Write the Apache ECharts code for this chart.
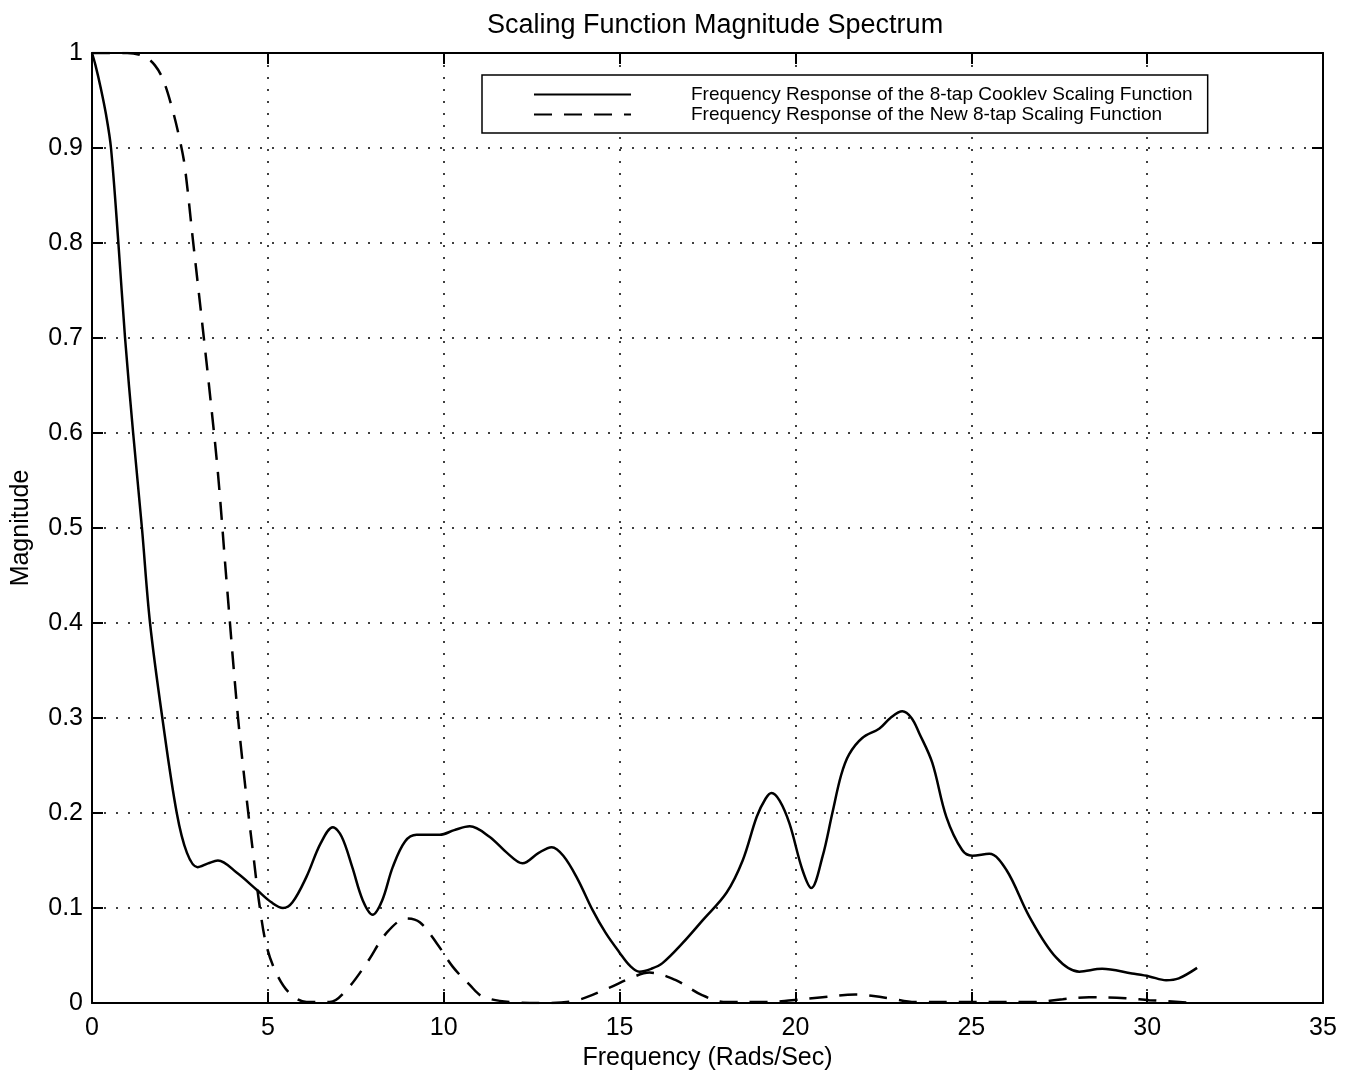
<!DOCTYPE html>
<html lang="en" style="height: 100%">
<head>
  <meta charset="utf-8">
  <title>Scaling Function Magnitude Spectrum</title>
  <script src="https://cdn.jsdelivr.net/npm/echarts@6/dist/echarts.min.js"></script>
</head>
<body style="height: 100%; margin: 0; background: #fff">
  <div id="container" style="width: 1357px; height: 1077px"></div>
  <script type="text/javascript">
    // Cooklev 8-tap scaling function (solid)
    var cooklevFreq = [0, 0.1, 0.25, 0.4, 0.54, 0.75, 0.94, 1.17, 1.42, 1.65, 2.0, 2.41, 2.7, 3.0, 3.3, 3.58, 4.12,
      4.69, 5.1, 5.43, 5.7, 6.1, 6.5, 6.85, 7.1, 7.4, 7.7, 7.98, 8.25, 8.55, 8.9, 9.23, 9.89, 10.3, 10.74,
      11.3, 11.8, 12.24, 12.7, 13.07, 13.4, 13.8, 14.23, 14.6, 15.0, 15.3, 15.57, 15.9, 16.22, 16.79, 17.36,
      18.04, 18.5, 18.9, 19.15, 19.32, 19.55, 19.83, 20.2, 20.45, 20.77, 21.05, 21.3, 21.53, 21.9, 22.39,
      22.7, 23.04, 23.3, 23.52, 23.89, 24.29, 24.74, 25.03, 25.51, 26.0, 26.65, 27.41, 28.07, 28.72, 29.57,
      30.06, 30.54, 30.9, 31.42];
    var cooklevMag = [1.0, 0.987, 0.963, 0.935, 0.9, 0.8, 0.7, 0.6, 0.5, 0.4, 0.3, 0.2, 0.158, 0.143, 0.147, 0.15, 0.137,
      0.119, 0.106, 0.1, 0.106, 0.133, 0.168, 0.185, 0.175, 0.143, 0.108, 0.093, 0.108, 0.143, 0.17, 0.177, 0.177, 0.182, 0.186,
      0.175, 0.158, 0.147, 0.158, 0.164, 0.155, 0.131, 0.098, 0.074, 0.053, 0.039, 0.033, 0.036, 0.042, 0.063, 0.087,
      0.116, 0.15, 0.196, 0.215, 0.221, 0.213, 0.189, 0.14, 0.121, 0.154, 0.2, 0.24, 0.262, 0.279, 0.289,
      0.3, 0.307, 0.3, 0.284, 0.253, 0.196, 0.161, 0.155, 0.157, 0.14, 0.091, 0.048, 0.033, 0.036, 0.031,
      0.028, 0.024, 0.026, 0.037];

    // New 8-tap scaling function (dashed)
    var newFreq = [0, 1.0, 1.5, 1.79, 2.02, 2.27, 2.5, 2.64, 2.87, 3.15, 3.35, 3.58, 3.83, 4.15, 4.4, 4.57, 4.77,
      4.97, 5.26, 5.63, 6.1, 6.76, 7.24, 7.81, 8.38, 8.95, 9.32, 9.8, 10.26, 10.74, 11.1, 11.9, 13.0, 13.8,
      14.7, 15.3, 15.85, 16.6, 17.36, 18.04, 19.2, 19.9, 20.77, 21.7, 22.67, 23.4, 26.8, 27.6, 28.35, 29.4,
      30.06, 31.42];
    var newMag = [1.0, 1.0, 0.996, 0.987, 0.972, 0.943, 0.908, 0.88, 0.803, 0.71, 0.642, 0.558, 0.442, 0.301, 0.214, 0.161, 0.101,
      0.059, 0.03, 0.01, 0.001, 0.001, 0.014, 0.042, 0.074, 0.089, 0.085, 0.063, 0.038, 0.019, 0.007, 0.001, 0.0, 0.003,
      0.016, 0.026, 0.032, 0.024, 0.008, 0.001, 0.001, 0.003, 0.006, 0.009, 0.005, 0.001, 0.001, 0.004, 0.006, 0.005,
      0.003, 0.0];

    var seriesNames = [
      'Frequency Response of the 8-tap Cooklev Scaling Function',
      'Frequency Response of the New 8-tap Scaling Function'
    ];

    function pairs(xs, ys) {
      return xs.map(function (x, i) { return [x, ys[i]]; });
    }

    var dom = document.getElementById('container');
    var myChart = echarts.init(dom, null, { renderer: 'canvas' });
    var font = 'Liberation Sans, Arial, Helvetica, sans-serif';
    var dotted = { color: '#000', width: 1.5, type: [2, 10] };
    var frame = { color: '#000', width: 2 };

    var option = {
      backgroundColor: '#fff',
      animation: false,
      textStyle: { fontFamily: font, color: '#000' },
      title: {
        text: 'Scaling Function Magnitude Spectrum',
        left: 710,
        top: 7,
        textAlign: 'center',
        textStyle: { fontFamily: font, fontSize: 27, fontWeight: 'normal', color: '#000' }
      },
      legend: {
        left: 482,
        top: 75,
        orient: 'vertical',
        padding: [10, 15, 9, 51],
        itemGap: 1,
        itemWidth: 97,
        itemHeight: 16,
        borderColor: '#000',
        borderWidth: 1.5,
        backgroundColor: '#fff',
        itemStyle: { opacity: 0 },
        textStyle: { fontFamily: font, fontSize: 19, lineHeight: 17, color: '#000', padding: [0, 0, 0, 55] },
        data: seriesNames
      },
      grid: { left: 92, right: 34, top: 53, bottom: 74 },
      xAxis: [{
        type: 'value', min: 0, max: 35, interval: 5,
        name: 'Frequency (Rads/Sec)', nameLocation: 'middle', nameGap: 41,
        nameTextStyle: { fontSize: 25, color: '#000' },
        axisLine: { onZero: false, lineStyle: frame },
        axisTick: { inside: true, length: 11, lineStyle: frame },
        axisLabel: { fontSize: 25, color: '#000', margin: 13 },
        splitLine: { show: true, lineStyle: dotted }
      }, {
        type: 'value', min: 0, max: 35, interval: 5, position: 'top',
        axisLine: { show: true, onZero: false, lineStyle: frame },
        axisTick: { show: true, inside: true, length: 11, lineStyle: frame },
        axisLabel: { show: false },
        splitLine: { show: false }
      }],
      yAxis: [{
        type: 'value', min: 0, max: 1, interval: 0.1,
        name: 'Magnitude', nameLocation: 'middle', nameGap: 58,
        nameTextStyle: { fontSize: 25, color: '#000' },
        axisLine: { show: true, onZero: false, lineStyle: frame },
        axisTick: { show: true, inside: true, length: 11, lineStyle: frame },
        axisLabel: { fontSize: 25, color: '#000', margin: 9 },
        splitLine: { show: true, lineStyle: dotted }
      }, {
        type: 'value', min: 0, max: 1, interval: 0.1, position: 'right',
        axisLine: { show: true, onZero: false, lineStyle: frame },
        axisTick: { show: true, inside: true, length: 11, lineStyle: frame },
        axisLabel: { show: false },
        splitLine: { show: false }
      }],
      series: [{
        name: seriesNames[0],
        type: 'line',
        data: pairs(cooklevFreq, cooklevMag),
        smooth: 0.35,
        symbol: 'none',
        lineStyle: { color: '#000', width: 2.5, type: 'solid' },
        itemStyle: { color: '#000' }
      }, {
        name: seriesNames[1],
        type: 'line',
        data: pairs(newFreq, newMag),
        smooth: 0.35,
        symbol: 'none',
        lineStyle: { color: '#000', width: 2.5, type: [18, 12] },
        itemStyle: { color: '#000' }
      }]
    };

    myChart.setOption(option);
    window.addEventListener('resize', myChart.resize);
  </script>
</body>
</html>
